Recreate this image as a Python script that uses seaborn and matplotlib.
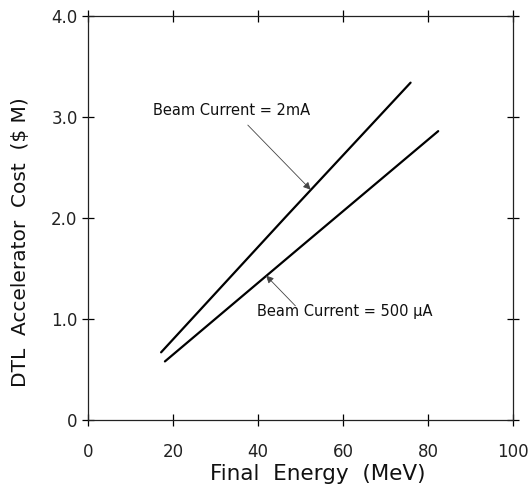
import numpy as np
import pandas as pd
import matplotlib
matplotlib.use("Agg")
import matplotlib.pyplot as plt
import seaborn as sns

# values
energy_2ma = [17.2, 46.5, 75.9]
cost_2ma = [0.67, 2.01, 3.34]
energy_500ua = [18.1, 50.2, 82.4]
cost_500ua = [0.58, 1.72, 2.86]

x_ticks = [0, 20, 40, 60, 80, 100]
x_tick_labels = ["0", "20", "40", "60", "80", "100"]
y_ticks = [0, 1, 2, 3, 4]
y_tick_labels = ["0", "1.0", "2.0", "3.0", "4.0"]

df = pd.DataFrame({
    "energy": energy_2ma + energy_500ua,
    "cost": cost_2ma + cost_500ua,
    "current": ["2 mA"] * len(energy_2ma) + ["500 uA"] * len(energy_500ua),
})

sns.set_style("ticks")
plt.rcParams["font.family"] = ["DejaVu Sans"]

fig = plt.figure(figsize=(5.28, 4.92), dpi=100)
ax = fig.add_axes([88 / 528, 1 - 420 / 492, 425 / 528, 404 / 492])

sns.lineplot(data=df, x="energy", y="cost", hue="current",
             palette=["black", "black"], linewidth=1.6, legend=False, ax=ax)

ax.set_xlim(0, 100)
ax.set_ylim(0, 4.0)
ax.set_xticks(x_ticks)
ax.set_xticklabels(x_tick_labels)
ax.set_yticks(y_ticks)
ax.set_yticklabels(y_tick_labels)

ax.tick_params(direction="inout", length=9, width=0.9, top=True, right=True,
               labelsize=12, color="black", labelcolor="#222222")
ax.tick_params(axis="x", pad=12)
ax.tick_params(axis="y", pad=3)
for s in ax.spines.values():
    s.set_linewidth(0.9)
    s.set_color("#222222")

ax.set_xlabel("Final  Energy  (MeV)", fontsize=15.5, color="#111111")
ax.set_ylabel("DTL  Accelerator  Cost  ($ M)", fontsize=14.5, color="#111111")
ax.xaxis.set_label_coords(0.54, -0.11)
ax.yaxis.set_label_coords(-0.137, 0.44)

arrow = dict(arrowstyle="-|>", color="#444444", lw=0.6, mutation_scale=11,
             shrinkA=0, shrinkB=0)
ax.annotate("", xy=(52.4, 2.28), xytext=(37.6, 2.92), arrowprops=arrow)
ax.text(15.3, 3.06, "Beam Current = 2mA", fontsize=10.5, va="center",
        ha="left", color="#111111")
ax.annotate("", xy=(41.9, 1.43), xytext=(48.8, 1.13), arrowprops=arrow)
ax.text(39.8, 1.07, "Beam Current = 500 \u03bcA", fontsize=10.5, va="center",
        ha="left", color="#111111")

fig.savefig("out.png", dpi=100)
